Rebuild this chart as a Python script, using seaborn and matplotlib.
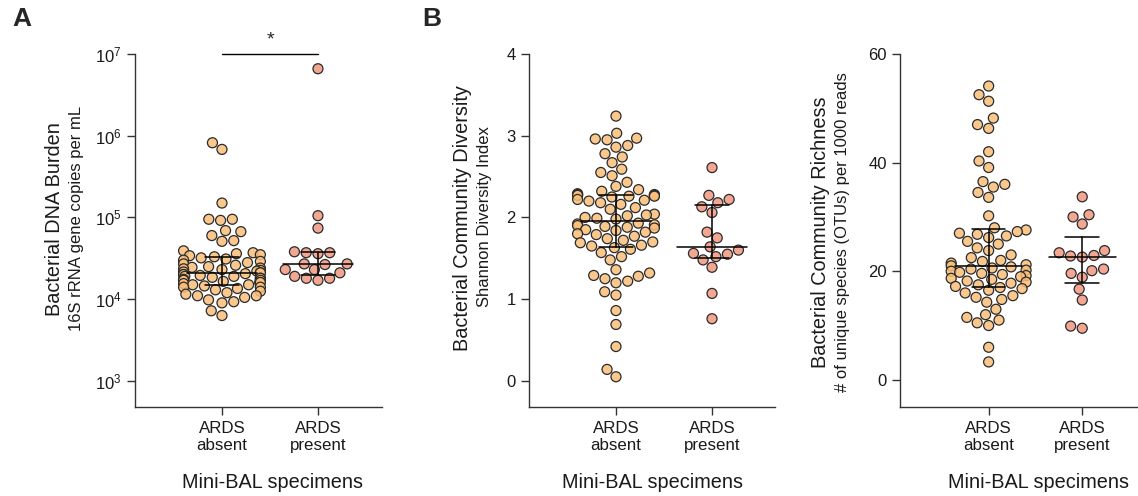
import numpy as np
import pandas as pd
import matplotlib
matplotlib.use("Agg")
import matplotlib.pyplot as plt
import seaborn as sns
from matplotlib.ticker import FixedLocator, NullLocator

# ---------------- data ----------------
groups = ["ARDS\nabsent", "ARDS\npresent"]

burden_absent = [8.2e5, 6.8e5, 1.5e5, 9.5e4, 9.5e4, 9.2e4, 6.9e4, 6.7e4, 6.0e4, 5.2e4,
                 5.1e4, 3.9e4, 3.7e4, 3.6e4, 3.5e4, 3.4e4, 3.3e4, 3.2e4, 3.1e4, 3.0e4,
                 2.9e4, 2.8e4, 2.7e4, 2.6e4, 2.5e4, 2.45e4, 2.4e4, 2.35e4, 2.3e4, 2.25e4,
                 2.2e4, 2.15e4, 2.1e4, 2.1e4, 2.05e4, 2.0e4, 2.0e4, 1.95e4, 1.9e4, 1.9e4,
                 1.85e4, 1.8e4, 1.8e4, 1.75e4, 1.7e4, 1.7e4, 1.65e4, 1.6e4, 1.6e4, 1.55e4,
                 1.5e4, 1.5e4, 1.45e4, 1.4e4, 1.4e4, 1.35e4, 1.3e4, 1.25e4, 1.2e4, 1.15e4,
                 1.1e4, 1.1e4, 1.05e4, 9.8e3, 9.3e3, 9.0e3, 7.2e3, 6.3e3]
burden_present = [6.6e6, 1.05e5, 7.4e4, 3.8e4, 3.7e4, 3.7e4, 3.6e4, 2.7e4, 2.7e4,
                  2.65e4, 2.3e4, 2.3e4, 2.1e4, 1.9e4, 1.8e4, 1.8e4, 1.7e4]

shannon_absent = [3.24, 3.03, 2.97, 2.96, 2.95, 2.88, 2.86, 2.78, 2.74, 2.67, 2.59, 2.55,
                  2.51, 2.43, 2.38, 2.34, 2.32, 2.29, 2.28, 2.28, 2.27, 2.27, 2.26, 2.26,
                  2.25, 2.22, 2.21, 2.20, 2.18, 2.16, 2.12, 2.10, 2.04, 2.03, 2.02, 2.00,
                  1.99, 1.98, 1.93, 1.92, 1.91, 1.90, 1.89, 1.88, 1.87, 1.85, 1.84, 1.82,
                  1.80, 1.79, 1.77, 1.74, 1.72, 1.70, 1.69, 1.66, 1.65, 1.63, 1.61, 1.57,
                  1.52, 1.48, 1.36, 1.32, 1.29, 1.28, 1.25, 1.22, 1.20, 1.09, 1.05, 0.86,
                  0.69, 0.42, 0.14, 0.05]
shannon_present = [2.61, 2.27, 2.22, 2.18, 2.13, 2.06, 1.82, 1.75, 1.64, 1.60, 1.56,
                   1.55, 1.52, 1.48, 1.39, 1.07, 0.76]

richness_absent = [54.1, 52.5, 51.3, 48.2, 47.0, 46.3, 42.0, 40.3, 39.1, 36.5, 36.0, 35.5,
                   34.5, 33.6, 30.2, 28.0, 27.6, 27.3, 27.0, 26.8, 26.5, 26.2, 25.5, 25.0,
                   24.3, 23.8, 23.0, 22.5, 22.0, 21.8, 21.5, 21.2, 21.0, 20.8, 20.6, 20.4,
                   20.2, 20.0, 19.8, 19.6, 19.4, 19.2, 19.0, 18.7, 18.5, 18.2, 18.0, 17.8,
                   17.5, 17.2, 17.0, 16.8, 16.5, 16.0, 15.5, 15.2, 14.8, 14.3, 13.0, 12.0,
                   11.5, 11.0, 10.5, 10.0, 6.0, 3.3]
richness_present = [33.7, 30.4, 30.0, 28.7, 23.8, 23.4, 22.9, 22.8, 22.6, 20.4, 20.1,
                    19.6, 18.9, 16.7, 14.7, 9.9, 9.5]

ylabels_main = ["Bacterial DNA Burden", "Bacterial Community Diversity",
                "Bacterial Community Richness"]
ylabels_sub = ["16S rRNA gene copies per mL", "Shannon Diversity Index",
               "# of unique species (OTUs) per 1000 reads"]
xlabel = "Mini-BAL specimens"

# ---------------- style ----------------
sns.set_style("ticks")
plt.rcParams["font.family"] = ["Liberation Sans", "DejaVu Sans"]
plt.rcParams["mathtext.fontset"] = "custom"
plt.rcParams["mathtext.rm"] = "Liberation Sans"
plt.rcParams["mathtext.it"] = "Liberation Sans:italic"

col_absent = (0.98, 0.75, 0.47, 0.85)
col_present = (0.95, 0.62, 0.53, 0.9)
edge = "#2b2b2b"
spine_col = "#333333"

W, H = 1138, 496
fig = plt.figure(figsize=(W / 100, H / 100), dpi=100)

def ax_rect(left, right, top, bottom):
    return [left / W, 1 - bottom / H, (right - left) / W, (bottom - top) / H]

axA = fig.add_axes(ax_rect(135, 382, 54, 407))
axB = fig.add_axes(ax_rect(529, 775, 54, 407))
axC = fig.add_axes(ax_rect(900, 1137, 54, 407))

axA.set_yscale("log")

def draw(ax, absent, present, xlim, ylim):
    df = pd.DataFrame({
        "group": [groups[0]] * len(absent) + [groups[1]] * len(present),
        "value": list(absent) + list(present),
    })
    ax.set_ylim(*ylim)
    sns.swarmplot(data=df, x="group", y="value", hue="group", order=groups,
                  hue_order=groups, palette=[col_absent, col_present], size=7.2,
                  linewidth=0.9, edgecolor=edge, legend=False, ax=ax, warn_thresh=1)
    for i, vals in enumerate([absent, present]):
        q1, med, q3 = np.percentile(vals, [25, 50, 75], method="weibull")
        ax.plot([i - 0.36, i + 0.36], [med, med], color="black", lw=1.1, zorder=5)
        ax.plot([i - 0.18, i + 0.18], [q1, q1], color="black", lw=1.1, zorder=5)
        ax.plot([i - 0.18, i + 0.18], [q3, q3], color="black", lw=1.1, zorder=5)
        ax.plot([i, i], [q1, q3], color="black", lw=1.1, zorder=5)
    ax.set_xlim(*xlim)
    ax.set_ylim(*ylim)
    ax.set_xlabel("")
    ax.set_ylabel("")
    for s in ["top", "right"]:
        ax.spines[s].set_visible(False)
    for s in ["left", "bottom"]:
        ax.spines[s].set_color(spine_col)
        ax.spines[s].set_linewidth(1.0)
    ax.tick_params(axis="both", length=6, width=1.0, color=spine_col,
                   labelcolor="#1a1a1a", labelsize=12)
    ax.tick_params(axis="x", pad=4, labelsize=12.2)
    for lab in ax.get_xticklabels():
        lab.set_linespacing(1.2)

draw(axA, burden_absent, burden_present, (-0.906, 1.667), (10 ** 2.68, 1e7))
axA.yaxis.set_major_locator(FixedLocator([1e3, 1e4, 1e5, 1e6, 1e7]))
axA.yaxis.set_minor_locator(NullLocator())
axA.set_yticklabels([r"$10^{3}$", r"$10^{4}$", r"$10^{5}$", r"$10^{6}$", r"$10^{7}$"])
axA.tick_params(axis="y", labelsize=12)
# significance bar
axA.plot([0, 1], [1e7, 1e7], color="black", lw=1.0, clip_on=False)
axA.text(0.5, 10 ** 7.17, "*", ha="center", va="center", fontsize=14)

draw(axB, shannon_absent, shannon_present, (-0.906, 1.656), (-0.32, 4))
axB.set_yticks([0, 1, 2, 3, 4])

draw(axC, richness_absent, richness_present, (-0.947, 1.585), (-5, 60))
axC.set_yticks([0, 20, 40, 60])

# y labels (two lines of different size)
lab_pos = [((55, 219), (76, 218)), ((462, 218), (485, 217)), ((820, 232), (843, 232))]
for (m, s), tm, ts in zip(lab_pos, ylabels_main, ylabels_sub):
    fig.text(m[0] / W, 1 - m[1] / H, tm, rotation=90, ha="center", va="center",
             fontsize=14.3, color="#1a1a1a")
    fig.text(s[0] / W, 1 - s[1] / H, ts, rotation=90, ha="center", va="center",
             fontsize=12.0, color="#1a1a1a")

for xc in [272, 652, 1038]:
    fig.text(xc / W, 1 - 482 / H, xlabel, ha="center", va="center", fontsize=14.3,
             color="#1a1a1a")

fig.text(22 / W, 1 - 19 / H, "A", ha="center", va="center", fontsize=19,
         fontweight="bold")
fig.text(432 / W, 1 - 19 / H, "B", ha="center", va="center", fontsize=19,
         fontweight="bold")

fig.savefig("out.png", dpi=100)
